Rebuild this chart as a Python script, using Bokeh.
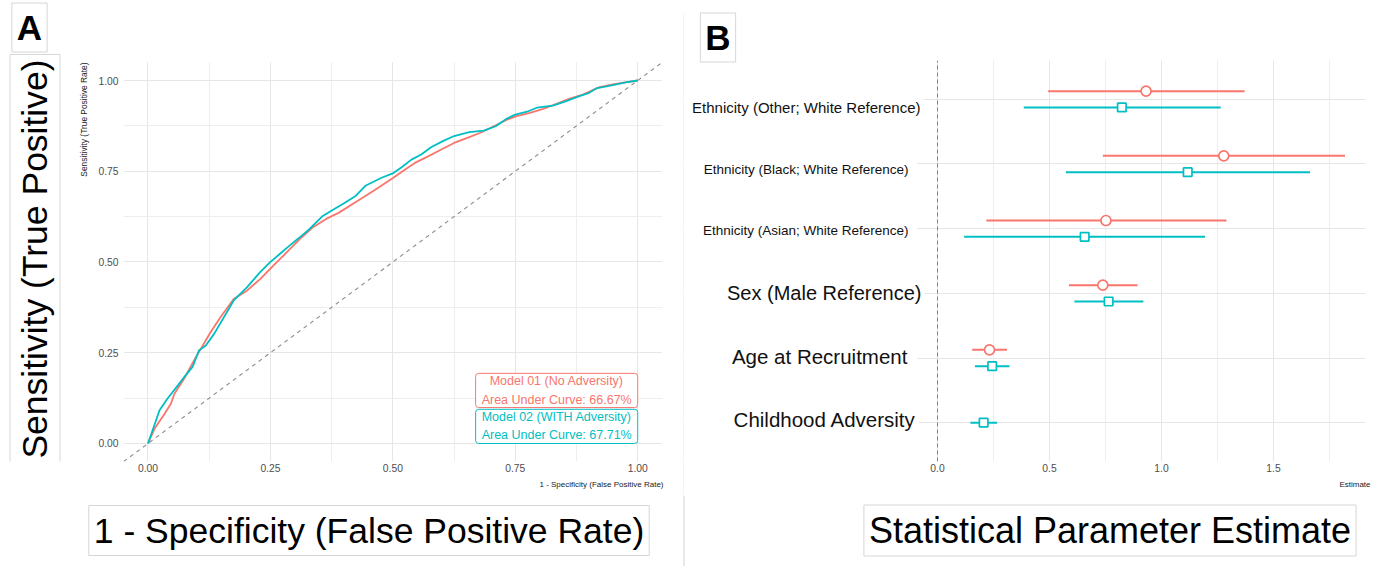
import numpy as np
from bokeh.plotting import figure
from bokeh.layouts import row, column
from bokeh.models import (Range1d, FixedTicker, Label, Slope, Span, NumeralTickFormatter,
                          BoxAnnotation, Title)
from bokeh.embed import file_html
from bokeh.resources import INLINE

FONT = "Liberation Sans"
RED = "#F8766D"
CYAN = "#00BFC4"
GRID = "#e6e6e6"
MINOR = "#eeeeee"
BOXLINE = "#d6d6d6"
SEPCOL = "#d3d3d3"

# ---------------- Panel A data (ROC curves) ----------------
roc1_fpr = [0, 0.0135, 0.034, 0.047, 0.054, 0.074, 0.094, 0.108, 0.128, 0.148, 0.175, 0.202,
            0.229, 0.256, 0.276, 0.310, 0.336, 0.363, 0.390, 0.417, 0.444, 0.471, 0.501, 0.525,
            0.545, 0.572, 0.599, 0.625, 0.652, 0.679, 0.706, 0.733, 0.753, 0.780, 0.807, 0.834,
            0.861, 0.888, 0.922, 0.949, 0.975, 1.0]
roc1_tpr = [0, 0.041, 0.082, 0.110, 0.137, 0.179, 0.229, 0.261, 0.307, 0.348, 0.398, 0.421,
            0.453, 0.490, 0.517, 0.563, 0.595, 0.618, 0.636, 0.659, 0.682, 0.705, 0.732, 0.755,
            0.773, 0.791, 0.810, 0.828, 0.842, 0.856, 0.874, 0.892, 0.902, 0.911, 0.922, 0.936,
            0.950, 0.961, 0.982, 0.989, 0.995, 1.0]
roc2_fpr = [0, 0.0236, 0.040, 0.061, 0.074, 0.091, 0.104, 0.118, 0.135, 0.155, 0.175, 0.202,
            0.229, 0.249, 0.269, 0.289, 0.310, 0.330, 0.357, 0.377, 0.397, 0.424, 0.444, 0.477,
            0.501, 0.518, 0.538, 0.558, 0.578, 0.602, 0.625, 0.656, 0.686, 0.710, 0.733, 0.750,
            0.774, 0.794, 0.827, 0.854, 0.881, 0.901, 0.915, 0.949, 0.975, 1.0]
roc2_tpr = [0, 0.0916, 0.124, 0.160, 0.183, 0.211, 0.256, 0.270, 0.302, 0.348, 0.394, 0.430,
            0.472, 0.499, 0.522, 0.545, 0.568, 0.591, 0.627, 0.643, 0.659, 0.682, 0.710, 0.732,
            0.745, 0.761, 0.782, 0.796, 0.816, 0.833, 0.847, 0.858, 0.862, 0.874, 0.895, 0.906,
            0.914, 0.925, 0.931, 0.943, 0.957, 0.966, 0.978, 0.987, 0.995, 1.0]
auc_text = ["Model 01 (No Adversity)\nArea Under Curve: 66.67%",
            "Model 02 (WITH Adversity)\nArea Under Curve: 67.71%"]
roc_ticks = [0.0, 0.25, 0.5, 0.75, 1.0]
roc_minor = [0.125, 0.375, 0.625, 0.875]
roc_tick_labels = ["0.00", "0.25", "0.50", "0.75", "1.00"]

# ---------------- Panel B data (estimates) ----------------
categories = ["Ethnicity (Other; White Reference)", "Ethnicity (Black; White Reference)",
              "Ethnicity (Asian; White Reference)", "Sex (Male Reference)",
              "Age at Recruitment", "Childhood Adversity"]
m1_est = [0.931, 1.278, 0.752, 0.738, 0.232, None]
m1_lo = [0.494, 0.738, 0.218, 0.587, 0.155, None]
m1_hi = [1.371, 1.819, 1.290, 0.893, 0.310, None]
m2_est = [0.823, 1.117, 0.657, 0.764, 0.244, 0.206]
m2_lo = [0.385, 0.573, 0.119, 0.611, 0.167, 0.147]
m2_hi = [1.264, 1.663, 1.194, 0.919, 0.321, 0.266]
est_ticks = [0.0, 0.5, 1.0, 1.5]
est_minor = [0.25, 0.75, 1.25, 1.75]
est_tick_labels = ["0.0", "0.5", "1.0", "1.5"]

# ---------------- layout constants ----------------
H_TOP = 495          # height of the upper row
BOT = 34             # bottom border (axis area) of the upper row
FR_H = H_TOP - BOT   # frame height of the upper row


def base_fig(**kw):
    return figure(toolbar_location=None, output_backend="svg", outline_line_color=None,
                  border_fill_color="white", background_fill_color="white", **kw)


def no_grid(p):
    p.xgrid.visible = False
    p.ygrid.visible = False


def style_axes(p):
    p.axis.axis_line_color = None
    p.axis.major_tick_line_color = None
    p.axis.minor_tick_line_color = None
    p.axis.major_tick_out = 0
    p.axis.minor_tick_out = 0
    p.axis.major_label_text_font = FONT
    p.axis.major_label_text_font_size = "10.3px"
    p.axis.major_label_text_color = "#4d4d4d"
    p.grid.grid_line_color = GRID
    p.grid.minor_grid_line_color = MINOR


def mask(p, **kw):
    p.add_layout(BoxAnnotation(fill_color="white", fill_alpha=1.0, line_color=None, **kw))


def box_label(p, x, y, text, size, angle=0.0, bold=False, pad=5):
    p.add_layout(Label(x=x, y=y, text=text, angle=angle, text_font=FONT,
                       text_font_size=size, text_font_style="bold" if bold else "normal",
                       text_color="black", text_align="center", text_baseline="middle",
                       background_fill_color="white", border_line_color=BOXLINE,
                       border_line_width=1, padding=pad))


# ================= strip left of panel A =================
sA = base_fig(width=95, height=H_TOP, x_range=Range1d(0, 95), y_range=Range1d(FR_H, 0),
              x_axis_location=None, y_axis_location=None, min_border=0,
              min_border_bottom=BOT)
no_grid(sA)
box_label(sA, 29, 27, "A", "35px", bold=True)
box_label(sA, 34.5, 258.5, "Sensitivity (True Positive)", "35.5px", angle=np.pi / 2)
sA.add_layout(Label(x=83, y=62, text="Sensitivity (True Positive Rate)", angle=np.pi / 2,
                    text_font=FONT, text_font_size="8.4px", text_color="#222222",
                    text_align="right", text_baseline="middle"))

# ================= Panel A =================
pA = base_fig(width=588, height=H_TOP, x_range=Range1d(-0.05, 1.0935),
              y_range=Range1d(-0.0496, 1.2204),
              min_border_left=25, min_border_right=0, min_border_top=0,
              min_border_bottom=BOT)
style_axes(pA)
for ax in (pA.xaxis, pA.yaxis):
    ax.ticker = FixedTicker(ticks=roc_ticks, minor_ticks=roc_minor)
    ax.formatter = NumeralTickFormatter(format="0.00")
    ax.major_label_overrides = {t: l for t, l in zip(roc_ticks, roc_tick_labels)}
pA.xaxis.major_label_standoff = 2
pA.yaxis.major_label_standoff = 5

pA.add_layout(Slope(gradient=1, y_intercept=0, line_color="#8c8c8c", line_dash="4 4",
                    line_width=1.1))
pA.line(roc1_fpr, roc1_tpr, line_color=RED, line_width=1.8)
pA.line(roc2_fpr, roc2_tpr, line_color=CYAN, line_width=1.8)
mask(pA, bottom=1.05)
mask(pA, left=1.05)

for txt, col, ybot in ((auc_text[0], RED, 0.099), (auc_text[1], CYAN, 0.0)):
    pA.add_layout(Label(x=1.0, y=ybot, anchor="bottom_right", text=txt, text_font=FONT,
                        text_font_size="12.5px", text_color=col, text_align="center",
                        text_line_height=1.3, background_fill_color="white",
                        border_line_color=col, border_line_width=1, border_radius=3,
                        padding=dict(left=6, right=6, top=1, bottom=1)))

pA.add_layout(Title(text="1 - Specificity (False Positive Rate)", align="right", offset=20,
                    standoff=6, text_font=FONT, text_font_size="8px",
                    text_font_style="normal", text_color="#222222"), "below")

# ================= separator (upper part) =================
sep = base_fig(width=1, height=H_TOP, x_range=Range1d(0, 1), y_range=Range1d(0, FR_H),
               x_axis_location=None, y_axis_location=None, min_border=0,
               min_border_bottom=BOT)
no_grid(sep)
sep.border_fill_color = SEPCOL
sep.quad(left=[0], right=[1], bottom=[0], top=[FR_H - 12], fill_color=SEPCOL,
         line_color=None)

# ================= Panel B =================
n = len(categories)
ys = [float(n - i) for i in range(n)]
pB = base_fig(width=695, height=H_TOP, x_range=Range1d(-1.1295, 1.9732),
              y_range=Range1d(0.4, 7.5277), y_axis_location=None,
              min_border=0, min_border_bottom=BOT)
style_axes(pB)
pB.xaxis.ticker = FixedTicker(ticks=est_ticks, minor_ticks=est_minor)
pB.xaxis.formatter = NumeralTickFormatter(format="0.0")
pB.xaxis.major_label_overrides = {t: l for t, l in zip(est_ticks, est_tick_labels)}
pB.xaxis.major_label_standoff = 2
pB.ygrid.ticker = FixedTicker(ticks=ys, minor_ticks=[])
pB.ygrid.minor_grid_line_color = None

# dashed reference line at zero across the panel
pB.segment(x0=[0], y0=[0.4], x1=[0], y1=[6.6], line_color="#808080", line_dash="4 3",
           line_width=1)

dodge = 0.126
y1, y2 = [], []
for i in range(n):
    both = m1_est[i] is not None and m2_est[i] is not None
    y1.append(ys[i] + (dodge if both else 0.0))
    y2.append(ys[i] - (dodge if both else 0.0))

idx1 = [i for i in range(n) if m1_est[i] is not None]
pB.segment(x0=[m1_lo[i] for i in idx1], y0=[y1[i] for i in idx1],
           x1=[m1_hi[i] for i in idx1], y1=[y1[i] for i in idx1],
           line_color=RED, line_width=2)
pB.segment(x0=m2_lo, y0=y2, x1=m2_hi, y1=y2, line_color=CYAN, line_width=2)
pB.scatter([m1_est[i] for i in idx1], [y1[i] for i in idx1], marker="circle", size=10,
           fill_color="white", line_color=RED, line_width=1.7)
pB.scatter(m2_est, y2, marker="square", size=8.5, fill_color="white", line_color=CYAN,
           line_width=1.7)

mask(pB, right=-0.091)
mask(pB, bottom=6.6)
mask(pB, left=1.910)

cat_label_style = [(-0.0625, -0.130, "15px"), (-0.116, -0.085, "13.5px"),
                   (-0.116, -0.031, "13.5px"), (-0.058, 0.0, "20px"),
                   (-0.121, 0.031, "20.5px"), (-0.083, 0.057, "20.5px")]
for cat, yv, (xl, dy, fs) in zip(categories, ys, cat_label_style):
    pB.add_layout(Label(x=xl, y=yv + dy, text=cat, text_font=FONT, text_font_size=fs,
                        text_color="#111111", text_align="right", text_baseline="middle",
                        background_fill_color="white", padding=3))

box_label(pB, -0.980, 6.956, "B", "35px", bold=True)

pB.add_layout(Title(text="Estimate", align="right", offset=9, standoff=6, text_font=FONT,
                    text_font_size="8px", text_font_style="normal", text_color="#222222"),
              "below")

# ================= bottom band with the big axis titles =================
bot = base_fig(width=1379, height=566 - H_TOP, x_range=Range1d(0, 1379),
               y_range=Range1d(566, H_TOP), x_axis_location=None, y_axis_location=None,
               min_border=0)
no_grid(bot)
bot.add_layout(Span(location=683.5, dimension="height", line_color=SEPCOL, line_width=1))
box_label(bot, 368.5, 530, "1 - Specificity (False Positive Rate)", "35.5px")
box_label(bot, 1109.5, 530, "Statistical Parameter Estimate", "36px")

layout = column(row(sA, pA, sep, pB), bot)
open("out.html", "w").write(file_html(layout, INLINE))
